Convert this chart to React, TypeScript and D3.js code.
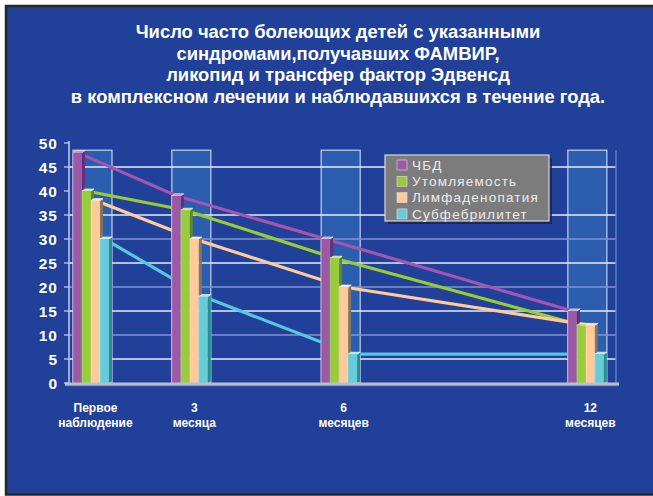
import React from "react";
import * as d3 from "d3";

// Time points (two-line labels)
const categories: string[][] = [
  ["Первое", "наблюдение"],
  ["3", "месяца"],
  ["6", "месяцев"],
  ["12", "месяцев"],
];

// Series names and values per time point
const seriesNames = ["ЧБД", "Утомляемость", "Лимфаденопатия", "Субфебрилитет"];
const chbdValues = [48, 39, 30, 15];
const fatigueValues = [40, 36, 26, 12];
const lymphValues = [38, 30, 20, 12];
const subfebrileValues = [30, 18, 6, 6];
const yTicks = [0, 5, 10, 15, 20, 25, 30, 35, 40, 45, 50];

const title = [
  "Число часто болеющих детей с указанными",
  "синдромами,получавших ФАМВИР,",
  "ликопид и трансфер фактор Эдвенсд",
  "в комплексном лечении и наблюдавшихся в течение года.",
];

const seriesValues = [chbdValues, fatigueValues, lymphValues, subfebrileValues];

// front / side / top / line colours for each series
const palette = [
  { front: "#9c5aa6", side: "#6a2c78", top: "#c28ccb", line: "#a455ad" },
  { front: "#99cc3d", side: "#5d8a28", top: "#bde06a", line: "#99cc33" },
  { front: "#ffcc99", side: "#8a7356", top: "#ffe3c6", line: "#ffcc99" },
  { front: "#66ccd9", side: "#2a8f8c", top: "#a2e6ef", line: "#55c8dd" },
];

const W = 653;
const H = 496;
const BG = "#20409a";
const plotLeft = 69;
const plotRight = 616;
const plotBottom = 383;
const plotTop = 143;
const barW = 9;
const depthX = 3;
const depthY = 2;
// horizontal slot of each time point within the plot, as a fraction of its width
const slotFractions = [0.0073, 0.188, 0.461, 0.912];
const backdropValue = 48.5;

export default function App() {
  const y = d3.scaleLinear().domain([0, 50]).range([plotBottom, plotTop]);
  const groupX = d3
    .scaleOrdinal<number, number>()
    .domain(categories.map((_, i) => i))
    .range(slotFractions.map((f) => plotLeft + f * (plotRight - plotLeft)));

  const nSeries = seriesNames.length;
  const groupWidth = nSeries * barW + depthX;
  const barX = (g: number, s: number) => groupX(g) + s * barW;

  const lineGen = d3
    .line<[number, number]>()
    .x((d) => d[0])
    .y((d) => d[1]);

  const font = "'Liberation Sans', Arial, sans-serif";

  return (
    <svg
      width={W}
      height={H}
      style={{ position: "absolute", left: 0, top: 0 }}
      fontFamily={font}
    >
      <rect x={0} y={0} width={W} height={H} fill="#ffffff" />
      <rect x={6} y={6} width={W + 10} height={H - 7.5} fill={BG} stroke="#262626" strokeWidth={2.5} />

      {/* title */}
      {title.map((t, i) => (
        <text
          key={i}
          x={338}
          y={38 + i * 21.7}
          textAnchor="middle"
          fill="#ffffff"
          fontWeight="bold"
          fontSize={18.4}
        >
          {t}
        </text>
      ))}

      {/* backdrop columns behind each group */}
      {categories.map((_, g) => (
        <rect
          key={g}
          x={groupX(g)}
          y={y(backdropValue)}
          width={groupWidth}
          height={plotBottom - y(backdropValue)}
          fill="#2b5eae"
          stroke="#c5d2ee"
          strokeWidth={1.2}
        />
      ))}

      {/* grid lines */}
      {yTicks
        .filter((t) => t > 0 && t < 40)
        .map((t) => (
          <line
            key={t}
            x1={plotLeft}
            x2={plotRight}
            y1={y(t)}
            y2={y(t)}
            stroke={t % 10 === 0 ? "#8593c6" : "#e6ebf8"}
            strokeWidth={1.3}
          />
        ))}
      <line
        x1={plotLeft}
        x2={plotRight}
        y1={y(45)}
        y2={y(45)}
        stroke="#e6ebf8"
        strokeWidth={1.3}
      />
      <line x1={plotRight} x2={plotRight} y1={y(48.5)} y2={plotBottom} stroke="#5f7cc4" strokeWidth={1.5} />

      {/* connecting lines between time points */}
      {seriesValues.map((vals, s) => (
        <path
          key={s}
          d={lineGen(vals.map((v, g) => [barX(g, s) + barW / 2, y(v)])) || ""}
          fill="none"
          stroke={palette[s].line}
          strokeWidth={3.2}
        />
      ))}

      {/* 3D bars */}
      {categories.map((_, g) => (
        <g key={g}>
          {seriesValues.map((vals, s) => {
            const x0 = barX(g, s);
            const yt = y(vals[g]);
            const c = palette[s];
            return (
              <g key={s}>
                <polygon
                  points={`${x0 + barW},${yt} ${x0 + barW + depthX},${yt - depthY} ${x0 + barW + depthX},${plotBottom - depthY} ${x0 + barW},${plotBottom}`}
                  fill={c.side}
                />
                <polygon
                  points={`${x0},${yt} ${x0 + depthX},${yt - depthY} ${x0 + barW + depthX},${yt - depthY} ${x0 + barW},${yt}`}
                  fill={c.top}
                  stroke="#ffffff"
                  strokeWidth={0.8}
                  strokeOpacity={0.8}
                />
                <rect x={x0} y={yt} width={barW} height={plotBottom - yt} fill={c.front} />
                <line x1={x0} x2={x0} y1={yt} y2={plotBottom} stroke="#ffffff" strokeOpacity={0.35} strokeWidth={0.8} />
              </g>
            );
          })}
        </g>
      ))}

      {/* floor */}
      <rect x={plotLeft - 4} y={plotBottom - 0.5} width={plotRight - plotLeft + 7} height={2.5} fill="#b9bfcc" />
      <rect x={plotLeft - 4} y={plotBottom + 2} width={plotRight - plotLeft + 7} height={1.2} fill="#7f8fbf" />

      {/* y axis */}
      <line x1={plotLeft} x2={plotLeft} y1={plotTop - 2} y2={plotBottom} stroke="#c3cbe4" strokeWidth={1.5} />
      {yTicks.map((t) => (
        <g key={t}>
          <line x1={plotLeft - 5} x2={plotLeft} y1={y(t)} y2={y(t)} stroke="#c3cbe4" strokeWidth={1.3} />
          <text
            x={58}
            y={y(t)}
            dy="0.36em"
            textAnchor="end"
            fill="#ffffff"
            fontWeight="bold"
            fontSize={15.5}
            letterSpacing={1}
          >
            {t}
          </text>
        </g>
      ))}

      {/* category labels */}
      {categories.map((lines, g) => (
        <text
          key={g}
          x={groupX(g) + groupWidth / 2 + 3}
          textAnchor="middle"
          fill="#ffffff"
          fontWeight="bold"
          fontSize={12}
        >
          {lines.map((l, i) => (
            <tspan key={i} x={groupX(g) + groupWidth / 2 + 3} y={412 + i * 15}>
              {l}
            </tspan>
          ))}
        </text>
      ))}

      {/* legend */}
      <g transform="translate(385,155)">
        <rect x={3} y={3} width={164} height={66} fill="#1a1f4a" opacity={0.8} />
        <rect x={0} y={0} width={164} height={66} fill="#7c7c7c" stroke="#d8d8d8" strokeWidth={1.2} />
        {seriesNames.map((n, s) => (
          <g key={s} transform={`translate(0,${10 + s * 16.3})`}>
            <rect x={12} y={-5} width={10} height={10} fill={palette[s].front} stroke="#dddddd" strokeWidth={0.6} />
            <text x={27} y={0} dy="0.36em" fill="#ececec" fontSize={13.5} letterSpacing={1.2}>
              {n}
            </text>
          </g>
        ))}
      </g>
    </svg>
  );
}
